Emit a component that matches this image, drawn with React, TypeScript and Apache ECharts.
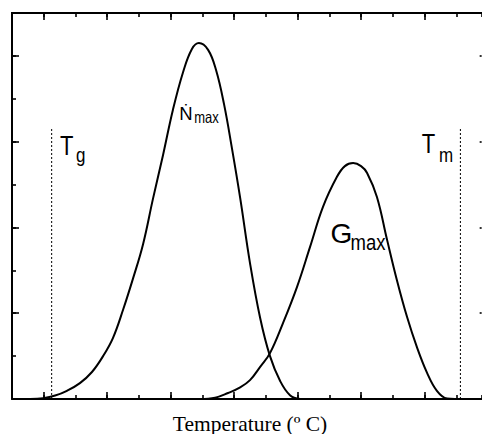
import React, { useEffect, useRef } from "react";
import * as echarts from "echarts";

// Nucleation rate curve (N-dot)
const nucleationX = [0.57, 0.98, 1.36, 1.73, 2.14, 2.52, 2.87, 3.18, 3.5, 3.81, 4.13, 4.44, 4.76, 5.07, 5.39, 5.67, 5.89, 6.18, 6.43, 6.68, 6.93, 7.19, 7.5, 7.82, 8.13, 8.45, 8.76, 9.08];
const nucleationY = [0, 0.02, 0.08, 0.19, 0.37, 0.63, 1.0, 1.42, 2.08, 2.8, 3.61, 4.66, 5.69, 6.74, 7.62, 8.16, 8.3, 8.14, 7.67, 6.88, 5.85, 4.69, 3.17, 1.89, 1.0, 0.42, 0.09, 0];

// Growth rate curve (G)
const growthX = [5.92, 6.4, 6.81, 7.19, 7.5, 7.82, 8.13, 8.54, 8.98, 9.39, 9.8, 10.24, 10.49, 10.75, 11.0, 11.19, 11.5, 11.82, 12.13, 12.45, 12.76, 13.08, 13.39, 13.71, 13.96];
const growthY = [0, 0.03, 0.14, 0.27, 0.44, 0.75, 1.07, 1.77, 2.61, 3.54, 4.48, 5.18, 5.43, 5.5, 5.43, 5.27, 4.71, 3.71, 2.77, 1.91, 1.21, 0.61, 0.19, 0.01, 0];

// Glass transition and melting temperature markers
const tgX = 1.25;
const tmX = 14.13;
const markerTop = 6.32;

// Axis ranges and tick values (the original frame is cut off at the right edge)
const xMin = 0;
const xMax = 14.8;
const yMin = 0;
const yMax = 9;
const xMajorTicks = [1, 3, 5, 7, 9, 11, 13];
const yMajorTicks = [2, 4, 6, 8];

const xTitle = "Temperature (º C)";

const SANS = "'Liberation Sans', Arial, Helvetica, sans-serif";
const SERIF = "'Liberation Serif', 'Times New Roman', Times, serif";

function zip(xs: number[], ys: number[]) {
  return xs.map((x, i) => [x, ys[i]]);
}

const lineColor = "#000";
const tickStyle = { color: lineColor, width: 1.6 };

const G_LEFT = 12;
const G_TOP = 13;
const UNIT_X = 476 / 15;
const G_W = (xMax - xMin) * UNIT_X;
const G_H = 386;

function tickAxis(
  dim: "x" | "y",
  position: string,
  major: boolean,
  showLine: boolean,
  extra: any = {}
) {
  const isX = dim === "x";
  return {
    type: "value",
    position,
    min: isX ? xMin : yMin,
    max: isX ? xMax : yMax,
    interval: 1,
    axisLine: { show: showLine, onZero: false, lineStyle: { color: lineColor, width: 2 } },
    axisTick: major
      ? { show: true, inside: true, length: 7, customValues: isX ? xMajorTicks : yMajorTicks, lineStyle: tickStyle }
      : { show: true, inside: true, length: 4, lineStyle: tickStyle },
    axisLabel: { show: false },
    splitLine: { show: false },
    ...extra,
  };
}

function txt(text: string, x: number, y: number, fontSize: number, scaleY = 1) {
  return {
    type: "text",
    x,
    y,
    scaleY,
    z: 100,
    style: {
      text,
      x: 0,
      y: 0,
      fill: "#000",
      fontSize,
      fontFamily: SANS,
      textAlign: "left",
      textVerticalAlign: "middle",
    },
  };
}

export default function App() {
  const ref = useRef<HTMLDivElement>(null);

  useEffect(() => {
    if (!ref.current) return;
    const chart = echarts.init(ref.current, undefined, { renderer: "svg" });
    const option: any = {
      animation: false,
      backgroundColor: "#fff",
      grid: {
        left: G_LEFT,
        top: G_TOP,
        width: G_W,
        height: G_H,
        outerBoundsMode: "none",
      },
      xAxis: [
        tickAxis("x", "bottom", false, true, {
          name: xTitle,
          nameLocation: "middle",
          nameGap: 14,
          nameTextStyle: {
            color: "#000",
            fontFamily: SERIF,
            fontSize: 21.5,
            padding: [0, 0, 0, 6.5],
          },
        }),
        tickAxis("x", "bottom", true, false),
        tickAxis("x", "top", false, true),
        tickAxis("x", "top", true, false),
      ],
      yAxis: [
        tickAxis("y", "left", false, true),
        tickAxis("y", "left", true, false),
        {
          type: "value",
          position: "right",
          min: yMin,
          max: yMax,
          interval: 1,
          axisLine: { show: false, onZero: false },
          axisTick: { show: true, inside: true, length: 2, customValues: yMajorTicks, lineStyle: tickStyle },
          axisLabel: { show: false },
          splitLine: { show: false },
        },
      ],
      series: [
        {
          name: "Nucleation rate",
          type: "line",
          xAxisIndex: 0,
          yAxisIndex: 0,
          data: zip(nucleationX, nucleationY),
          smooth: 0.4,
          showSymbol: false,
          lineStyle: { color: lineColor, width: 2 },
        },
        {
          name: "Growth rate",
          type: "line",
          xAxisIndex: 0,
          yAxisIndex: 0,
          data: zip(growthX, growthY),
          smooth: 0.4,
          showSymbol: false,
          lineStyle: { color: lineColor, width: 2 },
        },
        {
          name: "Tg",
          type: "line",
          xAxisIndex: 0,
          yAxisIndex: 0,
          data: [
            [tgX, yMin],
            [tgX, markerTop],
          ],
          showSymbol: false,
          lineStyle: { color: lineColor, width: 1, type: [2, 2] },
        },
        {
          name: "Tm",
          type: "line",
          xAxisIndex: 0,
          yAxisIndex: 0,
          data: [
            [tmX, yMin],
            [tmX, markerTop],
          ],
          showSymbol: false,
          lineStyle: { color: lineColor, width: 1, type: [2, 2] },
        },
      ],
      graphic: [
        {
          type: "line",
          z: 90,
          shape: { x1: G_LEFT - 1, y1: G_TOP, x2: 482, y2: G_TOP },
          style: { stroke: lineColor, lineWidth: 2 },
        },
        txt("T", 60, 145.4, 22, 1.25),
        txt("g", 76, 155.2, 17, 1.2),
        txt("T", 421.8, 143.4, 22, 1.25),
        txt("m", 439, 154.6, 17, 1.2),
        txt("Ṅ", 179.3, 113.5, 18.5, 1),
        txt("max", 194.2, 117.5, 13, 1.22),
        txt("G", 330.4, 233.5, 28, 1),
        txt("max", 350.5, 242.1, 18.5, 1.22),
      ],
    };
    chart.setOption(option);
    return () => chart.dispose();
  }, []);

  return (
    <div
      ref={ref}
      style={{ position: "fixed", left: 0, top: 0, width: 482, height: 434, background: "#fff" }}
    />
  );
}
